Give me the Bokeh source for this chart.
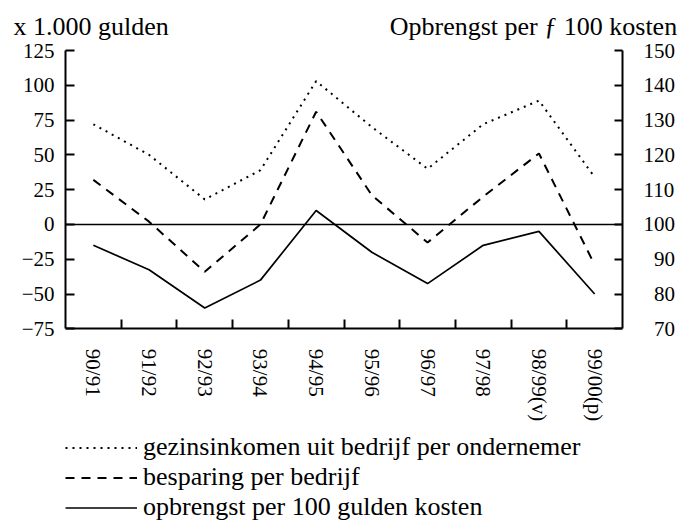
import math
from bokeh.plotting import figure
from bokeh.models import (Range1d, LinearAxis, FixedTicker, Span, Legend, LegendItem, Title)
from bokeh.core.properties import value
from bokeh.embed import file_html
from bokeh.resources import INLINE

years = ["90/91", "91/92", "92/93", "93/94", "94/95", "95/96", "96/97", "97/98", "98/99(v)", "99/00(p)"]
gezinsinkomen = [72, 50, 18, 39, 103, 70, 40, 72, 89, 34]
besparing = [32, 2, -34, 0, 81, 21, -13, 20, 51, -29]
opbrengst = [94, 87, 76, 84, 104, 92, 83, 94, 98, 80]
left_ticks = [-75, -50, -25, 0, 25, 50, 75, 100, 125]
right_ticks = [70, 80, 90, 100, 110, 120, 130, 140, 150]
left_title = "x 1.000 gulden"
right_title = "Opbrengst per ƒ 100 kosten"
series_names = ["gezinsinkomen uit bedrijf per ondernemer", "besparing per bedrijf",
                "opbrengst per 100 gulden kosten"]

FONT = "Liberation Serif"
FS = "21px"
FS_BIG = "26px"

# layout geometry (pixels)
W, H = 681, 528
LEFT, RIGHT, TOP, BOTTOM = 65, 59, 48, 6
AXIS_PX = 327.5                  # pixel row of the x axis
plot_h = AXIS_PX - TOP
extra = (H - BOTTOM) - AXIS_PX   # room below the axis for labels and legend

lmin, lmax = left_ticks[0], left_ticks[-1]
rmin, rmax = right_ticks[0], right_ticks[-1]
l_start = lmin - extra * (lmax - lmin) / plot_h
r_start = rmin - extra * (rmax - rmin) / plot_h

xs = [i + 0.5 for i in range(len(years))]

p = figure(width=W, height=H, output_backend="svg", toolbar_location=None,
           x_range=Range1d(0, len(years)), y_range=Range1d(l_start, lmax),
           min_border_left=LEFT, min_border_right=RIGHT, min_border_top=TOP, min_border_bottom=BOTTOM,
           x_axis_location=None, y_axis_location=None)
p.extra_y_ranges = {"right": Range1d(r_start, rmax)}
p.outline_line_color = None
p.xgrid.visible = False
p.ygrid.visible = False

# left axis
la = LinearAxis(ticker=FixedTicker(ticks=left_ticks), bounds=(lmin, lmax))
la.major_tick_in = 9
la.major_tick_out = 0
la.minor_tick_line_color = None
la.major_label_standoff = 11
la.axis_line_width = 2
la.major_tick_line_width = 2
la.major_label_text_font = FONT
la.major_label_text_font_size = FS
la.major_label_text_color = "black"
p.add_layout(la, "left")

# right axis (labels right-aligned: pad the two-digit ones)
ra = LinearAxis(y_range_name="right", ticker=FixedTicker(ticks=right_ticks), bounds=(rmin, rmax))
ra.major_label_overrides = {t: ("\u00a0\u00a0" + str(t)) if t < 100 else str(t) for t in right_ticks}
ra.major_tick_in = 8
ra.major_tick_out = 0
ra.minor_tick_line_color = None
ra.major_label_standoff = 21
ra.axis_line_width = 2
ra.major_tick_line_width = 2
ra.major_label_text_font = FONT
ra.major_label_text_font_size = FS
ra.major_label_text_color = "black"
p.add_layout(ra, "right")

# bottom axis at y = -75: tick marks at category boundaries
ba = LinearAxis(ticker=FixedTicker(ticks=[], minor_ticks=list(range(1, len(years)))),
                fixed_location=lmin)
ba.major_tick_in = 0
ba.major_tick_out = 0
ba.minor_tick_in = 9
ba.minor_tick_out = 0
ba.minor_tick_line_width = 2
ba.minor_tick_line_color = "black"
ba.axis_line_width = 2
ba.major_label_standoff = 0
p.add_layout(ba, "below")

# category labels, rotated, under the axis
p.text(x=xs, y=[lmin] * len(xs), text=years, angle=-math.pi / 2, y_offset=20,
       text_align="left", text_baseline="middle", text_font=value(FONT),
       text_font_size=value(FS), text_color="black")

p.add_layout(Span(location=0, dimension="width", line_color="black", line_width=1.6))

r1 = p.line(xs, gezinsinkomen, line_color="black", line_width=2, line_dash="2 5")
r2 = p.line(xs, besparing, line_color="black", line_width=2, line_dash="9 7")
r3 = p.line(xs, opbrengst, y_range_name="right", line_color="black", line_width=1.7)

legend = Legend(items=[
    LegendItem(label=series_names[0], renderers=[r1]),
    LegendItem(label=series_names[1], renderers=[r2]),
    LegendItem(label=series_names[2], renderers=[r3]),
], location=(0, 0), orientation="vertical")
legend.label_text_font = FONT
legend.label_text_font_size = FS_BIG
legend.label_text_color = "black"
legend.glyph_width = 72
legend.glyph_height = 25
legend.label_height = 25
legend.label_standoff = 6
legend.spacing = 0
legend.padding = 0
legend.margin = 0
legend.border_line_color = None
legend.background_fill_alpha = 0
p.add_layout(legend, "center")

# both axis titles on one line above the plot
gap = "\u00a0" * 34
p.add_layout(Title(text=left_title + gap + right_title, align="left", offset=-52,
                   standoff=19, text_font=FONT, text_font_size=FS_BIG,
                   text_font_style="normal", text_color="black"), "above")

open("out.html", "w").write(file_html(p, INLINE))
